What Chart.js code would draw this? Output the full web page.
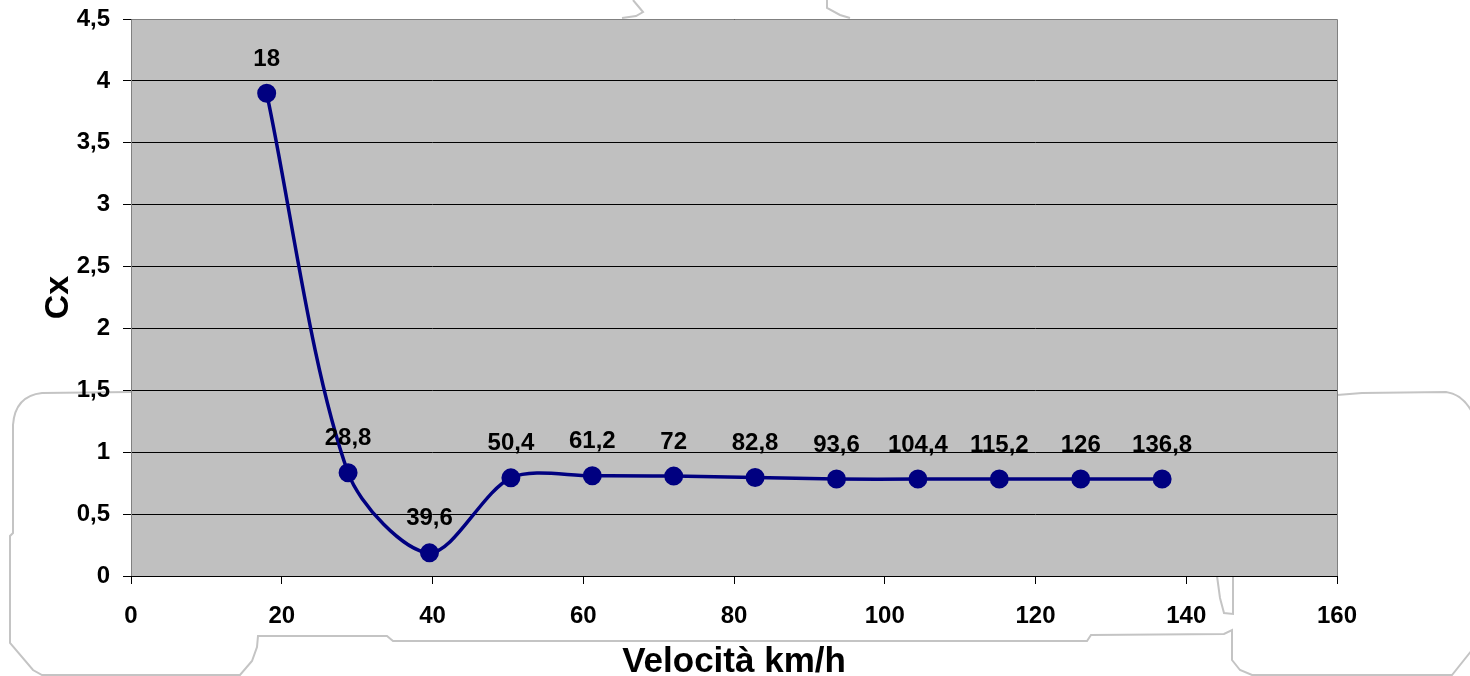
<!DOCTYPE html>
<html>
<head>
<meta charset="utf-8">
<script src="https://cdn.jsdelivr.net/npm/chart.js@4/dist/chart.umd.min.js"></script>
<style>
  html, body { margin: 0; padding: 0; background: #ffffff; }
  #wrap { width: 1470px; height: 676px; position: relative; }
</style>
</head>
<body>
<div id="wrap"><canvas id="c" width="1470" height="676"></canvas></div>
<script>
// ---- data ----
const speeds = [18, 28.8, 39.6, 50.4, 61.2, 72, 82.8, 93.6, 104.4, 115.2, 126, 136.8];
const cxValues = [3.90, 0.834, 0.187, 0.793, 0.81, 0.807, 0.796, 0.783, 0.783, 0.783, 0.783, 0.783];
const pointLabels = ['18', '28,8', '39,6', '50,4', '61,2', '72', '82,8', '93,6', '104,4', '115,2', '126', '136,8'];
const xTickValues = [0, 20, 40, 60, 80, 100, 120, 140, 160];
const xTickLabels = ['0', '20', '40', '60', '80', '100', '120', '140', '160'];
const yTickValues = [0, 0.5, 1, 1.5, 2, 2.5, 3, 3.5, 4, 4.5];
const yTickLabels = ['0', '0,5', '1', '1,5', '2', '2,5', '3', '3,5', '4', '4,5'];
const xTitle = 'Velocità km/h';
const yTitle = 'Cx';

// ---- styles ----
const FONT = '"Liberation Sans", Arial, Helvetica, sans-serif';
const NAVY = '#000080';
const PLOT_BG = '#c0c0c0';

// background: white page, faint car outline, gray plot area
const backgroundPlugin = {
  id: 'bg',
  beforeDraw(chart) {
    const ctx = chart.ctx;
    const a = chart.chartArea;
    ctx.save();
    ctx.fillStyle = '#ffffff';
    ctx.fillRect(0, 0, chart.width, chart.height);
    // decorative outline (background art)
    ctx.strokeStyle = '#c4c4c4';
    ctx.lineWidth = 2;
    ctx.beginPath();
    ctx.moveTo(131, 392);
    ctx.lineTo(42, 393);
    ctx.quadraticCurveTo(15, 396, 13, 425);
    ctx.lineTo(13, 533);
    ctx.lineTo(10, 536);
    ctx.lineTo(10, 643);
    ctx.lineTo(33, 670);
    ctx.lineTo(42, 675);
    ctx.lineTo(240, 675);
    ctx.lineTo(252, 661);
    ctx.lineTo(257, 647);
    ctx.lineTo(258, 636);
    ctx.lineTo(387, 636);
    ctx.lineTo(393, 641);
    ctx.lineTo(1087, 641);
    ctx.lineTo(1091, 635);
    ctx.lineTo(1224, 634);
    ctx.lineTo(1232, 630);
    ctx.lineTo(1232, 660);
    ctx.lineTo(1240, 670);
    ctx.lineTo(1252, 675);
    ctx.lineTo(1452, 675);
    ctx.lineTo(1472, 650);
    ctx.stroke();
    // small notch below plot
    ctx.beginPath();
    ctx.moveTo(1217, 576);
    ctx.lineTo(1220, 598);
    ctx.lineTo(1224, 613);
    ctx.lineTo(1233, 614);
    ctx.lineTo(1233, 576);
    ctx.stroke();
    // right upper body
    ctx.beginPath();
    ctx.moveTo(1337, 395);
    ctx.lineTo(1362, 393);
    ctx.lineTo(1446, 392);
    ctx.quadraticCurveTo(1462, 394, 1472, 412);
    ctx.stroke();
    // top bits
    ctx.beginPath();
    ctx.moveTo(633, 0);
    ctx.lineTo(638, 6);
    ctx.lineTo(643, 12);
    ctx.lineTo(636, 16);
    ctx.lineTo(622, 18);
    ctx.stroke();
    ctx.beginPath();
    ctx.moveTo(827, 0);
    ctx.lineTo(827, 8);
    ctx.lineTo(840, 15);
    ctx.lineTo(850, 18);
    ctx.stroke();
    // plot area
    ctx.fillStyle = PLOT_BG;
    ctx.fillRect(a.left, a.top, a.right - a.left, a.bottom - a.top);
    ctx.restore();
  }
};

// plot border (gray top/left/right, black bottom)
const borderPlugin = {
  id: 'plotBorder',
  beforeDatasetsDraw(chart) {
    const ctx = chart.ctx;
    const a = chart.chartArea;
    ctx.save();
    ctx.lineWidth = 1;
    ctx.strokeStyle = '#808080';
    ctx.beginPath();
    ctx.moveTo(a.left + 0.5, a.bottom + 0.5);
    ctx.lineTo(a.left + 0.5, a.top + 0.5);
    ctx.lineTo(a.right + 0.5, a.top + 0.5);
    ctx.lineTo(a.right + 0.5, a.bottom + 0.5);
    ctx.stroke();
    ctx.strokeStyle = '#000000';
    ctx.beginPath();
    ctx.moveTo(a.left, a.bottom + 0.5);
    ctx.lineTo(a.right + 1, a.bottom + 0.5);
    ctx.stroke();
    ctx.restore();
  }
};

// data labels above points
const labelPlugin = {
  id: 'pointLabels',
  afterDatasetsDraw(chart) {
    const ctx = chart.ctx;
    const meta = chart.getDatasetMeta(0);
    ctx.save();
    ctx.font = 'bold 24px ' + FONT;
    ctx.fillStyle = '#000000';
    ctx.textAlign = 'center';
    ctx.textBaseline = 'middle';
    meta.data.forEach((el, i) => {
      ctx.fillText(pointLabels[i], el.x, el.y - 34);
    });
    ctx.restore();
  }
};

const ctx = document.getElementById('c').getContext('2d');
new Chart(ctx, {
  type: 'line',
  data: {
    datasets: [{
      data: speeds.map((s, i) => ({ x: s, y: cxValues[i] })),
      borderColor: NAVY,
      backgroundColor: NAVY,
      borderWidth: 3.5,
      pointRadius: 8.5,
      pointBorderWidth: 2,
      pointBackgroundColor: NAVY,
      pointBorderColor: NAVY,
      tension: 0.3,
      fill: false,
      clip: false
    }]
  },
  options: {
    responsive: false,
    animation: false,
    devicePixelRatio: 1,
    events: [],
    layout: { padding: { top: 19, right: 133, left: 0, bottom: 0 } },
    plugins: {
      legend: { display: false },
      tooltip: { enabled: false },
      title: { display: false }
    },
    scales: {
      x: {
        type: 'linear',
        min: 0,
        max: 160,
        afterBuildTicks(scale) { scale.ticks = xTickValues.map(v => ({ value: v })); },
        afterFit(scale) {
          scale.height = 100;
          scale.paddingLeft = 0; scale.paddingRight = 0;
        },
        ticks: {
          autoSkip: false,
          maxRotation: 0,
          padding: 18,
          color: '#000000',
          font: { family: FONT, size: 24, weight: 'bold' },
          callback(value) {
            const i = xTickValues.indexOf(value);
            return i >= 0 ? xTickLabels[i] : '';
          }
        },
        grid: {
          drawOnChartArea: false,
          drawTicks: true,
          tickLength: 8,
          color: '#000000',
          tickColor: '#000000',
          lineWidth: 1
        },
        border: { display: false },
        title: {
          display: true,
          text: xTitle,
          color: '#000000',
          font: { family: FONT, size: 35, weight: 'bold', lineHeight: 0.8 },
          padding: { top: 0, bottom: 0 }
        }
      },
      y: {
        type: 'linear',
        min: 0,
        max: 4.5,
        afterBuildTicks(scale) { scale.ticks = yTickValues.map(v => ({ value: v })); },
        afterFit(scale) {
          scale.width = 131;
          scale.paddingTop = 0; scale.paddingBottom = 0;
        },
        ticks: {
          autoSkip: false,
          padding: 13,
          color: '#000000',
          font: { family: FONT, size: 24, weight: 'bold' },
          callback(value) {
            const i = yTickValues.findIndex(v => Math.abs(v - value) < 1e-9);
            return i >= 0 ? yTickLabels[i] : '';
          }
        },
        grid: {
          drawOnChartArea: true,
          drawTicks: true,
          tickLength: 8,
          color: '#000000',
          tickColor: '#000000',
          lineWidth: 1
        },
        border: { display: false },
        title: {
          display: true,
          text: yTitle,
          color: '#000000',
          font: { family: FONT, size: 34, weight: 'bold', lineHeight: 1 },
          padding: { top: 42, bottom: 0 }
        }
      }
    }
  },
  plugins: [backgroundPlugin, borderPlugin, labelPlugin]
});
</script>
</body>
</html>
